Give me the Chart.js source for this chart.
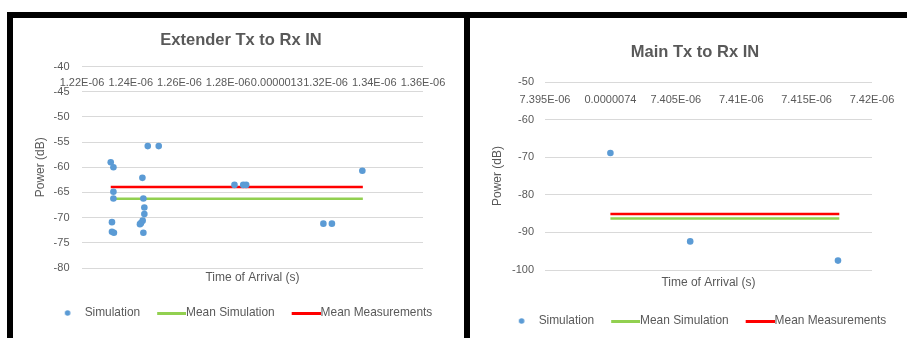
<!DOCTYPE html>
<html><head><meta charset="utf-8">
<script src="https://cdn.jsdelivr.net/npm/chart.js@4.4.1/dist/chart.umd.min.js"></script>
<style>
html,body{margin:0;padding:0;background:#fff;width:911px;height:338px;overflow:hidden;}
.bar{position:absolute;background:#000;z-index:2;}
canvas{position:absolute;z-index:1;}
</style></head><body>
<div class="bar" style="left:7px;top:12px;width:900px;height:6px"></div>
<div class="bar" style="left:7px;top:12px;width:6px;height:326px"></div>
<div class="bar" style="left:464px;top:12px;width:6px;height:326px"></div>
<canvas id="c1" width="451" height="320" style="left:13px;top:18px;width:451px;height:320px"></canvas>
<canvas id="c2" width="441" height="320" style="left:470px;top:18px;width:441px;height:320px"></canvas>
<script>
// ---------- Extender Tx to Rx IN ----------
const extTime = [1.2318e-6, 1.2329e-6, 1.2329e-6, 1.2329e-6, 1.2323e-6, 1.2323e-6, 1.2331e-6,
                 1.2448e-6, 1.2452e-6, 1.2456e-6, 1.2456e-6, 1.2449e-6, 1.2442e-6, 1.2438e-6, 1.2452e-6,
                 1.2470e-6, 1.2515e-6, 1.2826e-6, 1.2862e-6, 1.2874e-6, 1.3191e-6, 1.3226e-6, 1.3351e-6];
const extPower = [-59.0, -60.0, -64.85, -66.2, -70.9, -72.8, -73.0,
                  -62.1, -66.2, -68.0, -69.3, -70.6, -71.1, -71.3, -73.0,
                  -55.8, -55.8, -63.5, -63.5, -63.5, -71.2, -71.2, -60.7];
const extMeanX = [1.2318e-6, 1.3353e-6];
const extMeanSim = -66.25;
const extMeanMeas = -63.9;
const extXTicks = [1.22e-6, 1.24e-6, 1.26e-6, 1.28e-6, 1.30e-6, 1.32e-6, 1.34e-6, 1.36e-6];
const extXLabels = ['1.22E-06', '1.24E-06', '1.26E-06', '1.28E-06', '0.0000013', '1.32E-06', '1.34E-06', '1.36E-06'];
const extYTicks = [-80, -75, -70, -65, -60, -55, -50, -45, -40];

// ---------- Main Tx to Rx IN ----------
const mainTime = [7.4000e-6, 7.4061e-6, 7.4174e-6];
const mainPower = [-68.9, -92.4, -97.5];
const mainMeanX = [7.4000e-6, 7.4175e-6];
const mainMeanSim = -86.3;
const mainMeanMeas = -85.1;
const mainXTicks = [7.395e-6, 7.400e-6, 7.405e-6, 7.410e-6, 7.415e-6, 7.420e-6];
const mainXLabels = ['7.395E-06', '0.0000074', '7.405E-06', '7.41E-06', '7.415E-06', '7.42E-06'];
const mainYTicks = [-100, -90, -80, -70, -60, -50];

const seriesNames = ['Simulation', 'Mean Simulation', 'Mean Measurements'];

const FONT = "'Liberation Sans', Arial, sans-serif";
const TXT = '#595959';
const BLUE = '#5B9BD5', GREEN = '#92D050', RED = '#FF0000';

function legendImg(kind, color) {
  const c = document.createElement('canvas');
  c.width = 30; c.height = kind === 'dot' ? 8 : 3;
  const g = c.getContext('2d');
  g.fillStyle = color;
  if (kind === 'dot') { g.beginPath(); g.arc(12.85, 4, 2.8, 0, Math.PI * 2); g.fill(); }
  else g.fillRect(1, 0, 29, 3);
  return c;
}

function makeChart(id, o) {
  const marks = [legendImg('dot', BLUE), legendImg('line', GREEN), legendImg('line', RED)];
  return new Chart(document.getElementById(id), {
    type: 'scatter',
    data: {
      datasets: [
        { label: seriesNames[0], xAxisID: 'x', yAxisID: 'y',
          data: o.time.map((t, i) => ({ x: t, y: o.power[i] })),
          backgroundColor: BLUE, borderColor: BLUE, borderWidth: 0,
          pointRadius: 3.3, pointHoverRadius: 3.3, showLine: false },
        { label: seriesNames[1], xAxisID: 'x', yAxisID: 'y',
          data: o.meanX.map(x => ({ x: x, y: o.meanSim })),
          borderColor: GREEN, backgroundColor: GREEN, borderWidth: 2.5,
          pointRadius: 0, showLine: true },
        { label: seriesNames[2], xAxisID: 'x', yAxisID: 'y',
          data: o.meanX.map(x => ({ x: x, y: o.meanMeas })),
          borderColor: RED, backgroundColor: RED, borderWidth: 2.5,
          pointRadius: 0, showLine: true }
      ]
    },
    plugins: [{
      id: 'legendShift',
      afterLayout(chart) { chart.legend.left += o.legendShift; chart.legend.right += o.legendShift; }
    }],
    options: {
      responsive: false, animation: false, devicePixelRatio: 1, events: [],
      layout: { padding: { left: o.pl, right: 0, top: 0, bottom: o.pb } },
      plugins: {
        tooltip: { enabled: false },
        title: { display: true, text: o.title, color: TXT,
                 font: { family: FONT, size: 16.5, weight: 'bold' },
                 padding: { top: o.titlePadTop, bottom: 0 } },
        legend: { display: true, position: 'bottom',
          labels: { usePointStyle: true, pointStyleWidth: 18, padding: 22, color: TXT,
                    font: { family: FONT, size: 11.9 },
                    generateLabels: (chart) => {
                      const items = Chart.defaults.plugins.legend.labels.generateLabels(chart);
                      items.forEach(it => { it.pointStyle = marks[it.datasetIndex]; });
                      return items;
                    } } }
      },
      scales: {
        x: { type: 'linear', position: 'top', min: o.xTicks[0], max: o.xTicks[o.xTicks.length - 1],
             afterBuildTicks: s => { s.ticks = o.xTicks.map(v => ({ value: v })); },
             afterFit: s => { s.height = o.xAxisH; },
             ticks: { autoSkip: false, maxRotation: 0, minRotation: 0, mirror: true, padding: o.xLabelPad,
                      color: TXT, font: { family: FONT, size: 11 },
                      callback: (v, i) => o.xLabels[i] },
             grid: { display: false, drawTicks: false }, border: { display: false } },
        x2: { type: 'linear', position: 'bottom', display: true, min: 0, max: 1,
              afterFit: s => { s.height = o.x2H; },
              ticks: { display: false }, grid: { display: false, drawTicks: false }, border: { display: false },
              title: { display: true, text: 'Time of Arrival (s)', color: TXT,
                       font: { family: FONT, size: 12 }, padding: { top: 0, bottom: o.x2TitlePad } } },
        y: { type: 'linear', position: 'left', min: o.yTicks[0], max: o.yTicks[o.yTicks.length - 1],
             afterBuildTicks: s => { s.ticks = o.yTicks.map(v => ({ value: v })); },
             afterFit: s => { s.width = o.yAxisW; },
             ticks: { padding: o.yLabelPad, color: TXT, font: { family: FONT, size: 11 },
                      callback: v => String(v) },
             grid: { color: '#d9d9d9', lineWidth: 1, drawTicks: false }, border: { display: false },
             title: { display: true, text: 'Power (dB)', color: TXT,
                      font: { family: FONT, size: 12 }, padding: { top: o.yTitlePad, bottom: 0 } } },
        yR: { type: 'linear', position: 'right', display: true, min: 0, max: 1,
              afterFit: s => { s.width = o.rightW; },
              ticks: { display: false }, grid: { display: false, drawTicks: false }, border: { display: false } }
      }
    }
  });
}

makeChart('c1', {
  title: 'Extender Tx to Rx IN', time: extTime, power: extPower, meanX: extMeanX,
  meanSim: extMeanSim, meanMeas: extMeanMeas, xTicks: extXTicks, xLabels: extXLabels, yTicks: extYTicks,
  pl: 5, rightW: 41, pb: 9.05, yAxisW: 64, yTitlePad: 15.8, titlePadTop: 12.6, xAxisH: 16.1,
  xLabelPad: 10.1, x2H: 17.05, x2TitlePad: -0.15, yLabelPad: 12.5, legendShift: 5.5
});
makeChart('c2', {
  title: 'Main Tx to Rx IN', time: mainTime, power: mainPower, meanX: mainMeanX,
  meanSim: mainMeanSim, meanMeas: mainMeanMeas, xTicks: mainXTicks, xLabels: mainXLabels, yTicks: mainYTicks,
  pl: 9, rightW: 39, pb: 1.05, yAxisW: 66, yTitlePad: 11.8, titlePadTop: 24.6, xAxisH: 19.6,
  xLabelPad: 11.6, x2H: 23.05, x2TitlePad: 2.85, yLabelPad: 11, legendShift: 5.5
});
</script>
</body></html>
